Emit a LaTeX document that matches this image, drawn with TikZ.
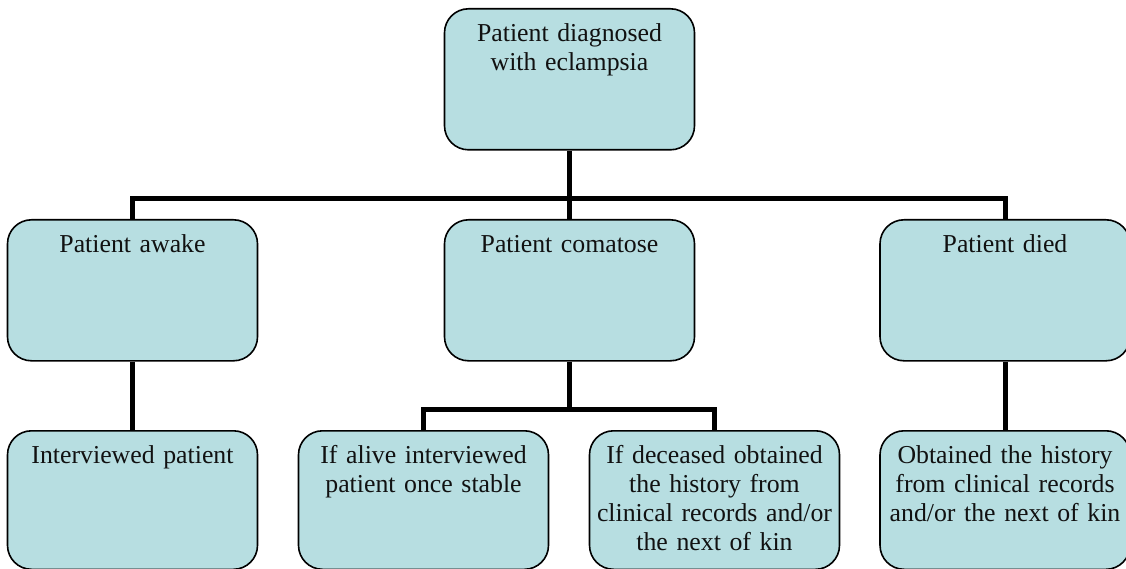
\documentclass[tikz,border=0pt]{standalone}
\usepackage{fontspec}
\setmainfont{Liberation Serif}
\usetikzlibrary{calc,positioning}
\definecolor{chartfill}{HTML}{B7DEE1}
\definecolor{chartink}{HTML}{111111}
\tikzset{
  chartbox/.style={draw=black, fill=chartfill, line width=1.6pt,
    rounded corners=24pt, anchor=north, align=center,
    text width=242pt, inner xsep=4pt, inner ysep=0pt,
    text height=33pt, text depth=108pt, text=chartink,
    font=\fontsize{25.8}{29}\selectfont},
  lowbox/.style={chartbox, text depth=105.5pt},
  chartlink/.style={draw=black, line width=5pt}
}
\begin{document}
\begin{tikzpicture}[x=1pt,y=-1pt]
  \useasboundingbox (0,0) rectangle (1126,569);

  % top level
  \node[chartbox] (diag) at (569.5,8) {Patient diagnosed\\with eclampsia};

  % second level
  \node[chartbox] (awake) at (132.5,219) {Patient awake};
  \node[chartbox] (coma) at (569.5,219) {Patient comatose};
  \node[chartbox] (died) at (1005,219) {Patient died};

  % third level
  \node[lowbox] (talk) at (132.5,430) {Interviewed patient};
  \node[lowbox] (alive) at (423.5,430) {If alive interviewed\\patient once stable};
  \node[lowbox] (dead) at (714.5,430) {If deceased obtained\\the history from\\clinical records and/or\\the next of kin};
  \node[lowbox] (records) at (1005,430) {Obtained the history\\from clinical records\\and/or the next of kin};

  % connectors
  \draw[chartlink] (diag.south) -- ++(0,47.5) coordinate (bus1);
  \draw[chartlink] (awake.north) |- (bus1) -| (died.north);
  \draw[chartlink] (bus1) -- (coma.north);
  \draw[chartlink] (coma.south) -- ++(0,47.5) coordinate (bus2);
  \draw[chartlink] (alive.north) |- (bus2) -| (dead.north);
  \draw[chartlink] (awake.south) -- (talk.north);
  \draw[chartlink] (died.south) -- (records.north);
\end{tikzpicture}
\end{document}
